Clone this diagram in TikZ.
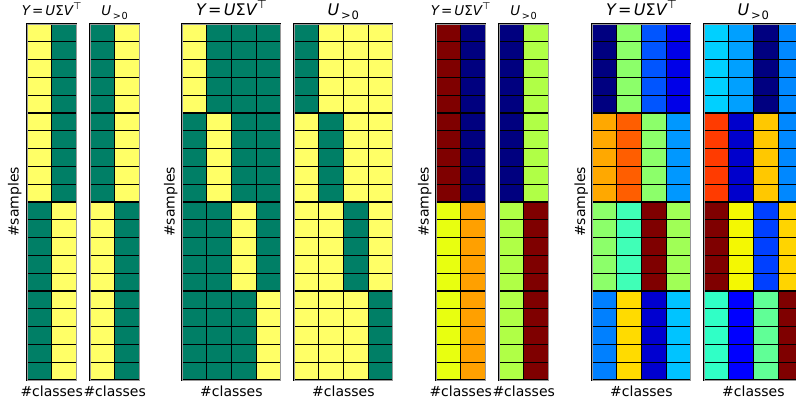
\documentclass[tikz,border=0pt]{standalone}
\usepackage{fontspec}
\setmainfont{DejaVu Sans}
\definecolor{sy}{HTML}{FFFF66}
\definecolor{sg}{HTML}{007F66}
\definecolor{jdr}{HTML}{7F0000}
\definecolor{jnv}{HTML}{00007F}
\definecolor{jyl}{HTML}{E8FF10}
\definecolor{jor}{HTML}{FFA000}
\definecolor{jlg}{HTML}{B0FF46}
% grid 7
\definecolor{aA}{HTML}{000080}
\definecolor{aB}{HTML}{8CFF6A}
\definecolor{aC}{HTML}{0055FF}
\definecolor{aD}{HTML}{0000E8}
\definecolor{aE}{HTML}{FFA800}
\definecolor{aF}{HTML}{FF5E00}
\definecolor{aG}{HTML}{0098FF}
\definecolor{aH}{HTML}{40FFB7}
\definecolor{aI}{HTML}{A0FF56}
\definecolor{aJ}{HTML}{0080FF}
\definecolor{aK}{HTML}{FFDB00}
\definecolor{aL}{HTML}{0000D0}
\definecolor{aM}{HTML}{00C4FF}
% grid 8
\definecolor{bA}{HTML}{00D0FF}
\definecolor{bB}{HTML}{00A0FF}
\definecolor{bC}{HTML}{0088FF}
\definecolor{bD}{HTML}{FF3B00}
\definecolor{bE}{HTML}{0000CC}
\definecolor{bF}{HTML}{FFC800}
\definecolor{bG}{HTML}{F4F802}
\definecolor{bH}{HTML}{0040FF}
\definecolor{bI}{HTML}{FFD400}
\definecolor{bJ}{HTML}{30FFC6}
\definecolor{bK}{HTML}{0000FF}
\definecolor{bL}{HTML}{60FF96}
\newcommand{\cw}{24.7}
\newcommand{\rh}{17.8}
\newcommand{\mygrid}[4]{%
  \foreach \c [count=\i from 0] in {#4} {
    \pgfmathtruncatemacro\g{\i/#2}
    \pgfmathtruncatemacro\k{mod(\i,#2)}
    \foreach \r in {1,...,#3} {
      \pgfmathsetmacro\yy{24+(\g*#3+\r-1)*\rh}
      \filldraw[fill=\c, draw=black, line width=1.1pt] ({#1+\k*\cw},\yy) rectangle ++(\cw,\rh);
    }
  }
  \draw[gray!80, line width=0.8pt] (#1,24) rectangle ({#1+#2*\cw},{24+20*\rh});
}
\newcommand{\ttlY}{{\itshape Y}\kern0.15em=\kern0.15em{\itshape U}Σ{\itshape V}\raisebox{0.45em}{\scalebox{0.72}{⊤}}}
\newcommand{\ttlU}{{\itshape U}\raisebox{-0.25em}{\scalebox{0.72}{\kern0.15em>\kern0.08em0}}}
\tikzset{
  small/.style={font=\fontsize{13.5}{16}\selectfont, anchor=base, inner sep=0pt},
  big/.style={font=\fontsize{16}{19}\selectfont, anchor=base, inner sep=0pt},
  lab/.style={font=\fontsize{14}{16}\selectfont, anchor=base, inner sep=0pt},
  ylab/.style={font=\fontsize{14}{16}\selectfont, anchor=base, inner sep=0pt, rotate=90}
}
\begin{document}
\begin{tikzpicture}[x=1pt, y=-1pt]
\clip (0,0) rectangle (796,406);
\fill[white] (0,0) rectangle (796,406);
% grids
\mygrid{27}{2}{10}{sy,sg,sg,sy}
\mygrid{90}{2}{10}{sg,sy,sy,sg}
\mygrid{182}{4}{5}{sy,sg,sg,sg, sg,sy,sg,sg, sg,sg,sy,sg, sg,sg,sg,sy}
\mygrid{294}{4}{5}{sg,sy,sy,sy, sy,sg,sy,sy, sy,sy,sg,sy, sy,sy,sy,sg}
\mygrid{436}{2}{10}{jdr,jnv,jyl,jor}
\mygrid{499}{2}{10}{jnv,jlg,jlg,jdr}
\mygrid{592}{4}{5}{aA,aB,aC,aD, aE,aF,aB,aG, aB,aH,jdr,aI, aJ,aK,aL,aM}
\mygrid{704}{4}{5}{bA,bB,aA,bC, bD,bE,bF,bC, jdr,bG,bH,bI, bJ,bK,bL,jdr}
% titles
\node[small] (t1) at (51.7,16) {\ttlY};
\node[small] (t2) at (114.7,16) {\ttlU};
\node[big] (t3) at (231.4,16) {\ttlY};
\node[big] (t4) at (343.4,16) {\ttlU};
\node[small] (t5) at (460.7,16) {\ttlY};
\node[small] (t6) at (523.7,16) {\ttlU};
\node[big] (t7) at (641.4,16) {\ttlY};
\node[big] (t8) at (753.4,16) {\ttlU};
% x labels
\node[lab] (x1) at (51.7,396) {\#classes};
\node[lab] (x2) at (114.7,396) {\#classes};
\node[lab] (x3) at (231.4,396) {\#classes};
\node[lab] (x4) at (343.4,396) {\#classes};
\node[lab] (x5) at (460.7,396) {\#classes};
\node[lab] (x6) at (523.7,396) {\#classes};
\node[lab] (x7) at (641.4,396) {\#classes};
\node[lab] (x8) at (753.4,396) {\#classes};
% y labels
\node[ylab] (y1) at (18.5,202) {\#samples};
\node[ylab] (y3) at (174.5,202) {\#samples};
\node[ylab] (y5) at (428.5,202) {\#samples};
\node[ylab] (y7) at (585,202) {\#samples};
\end{tikzpicture}
\end{document}
